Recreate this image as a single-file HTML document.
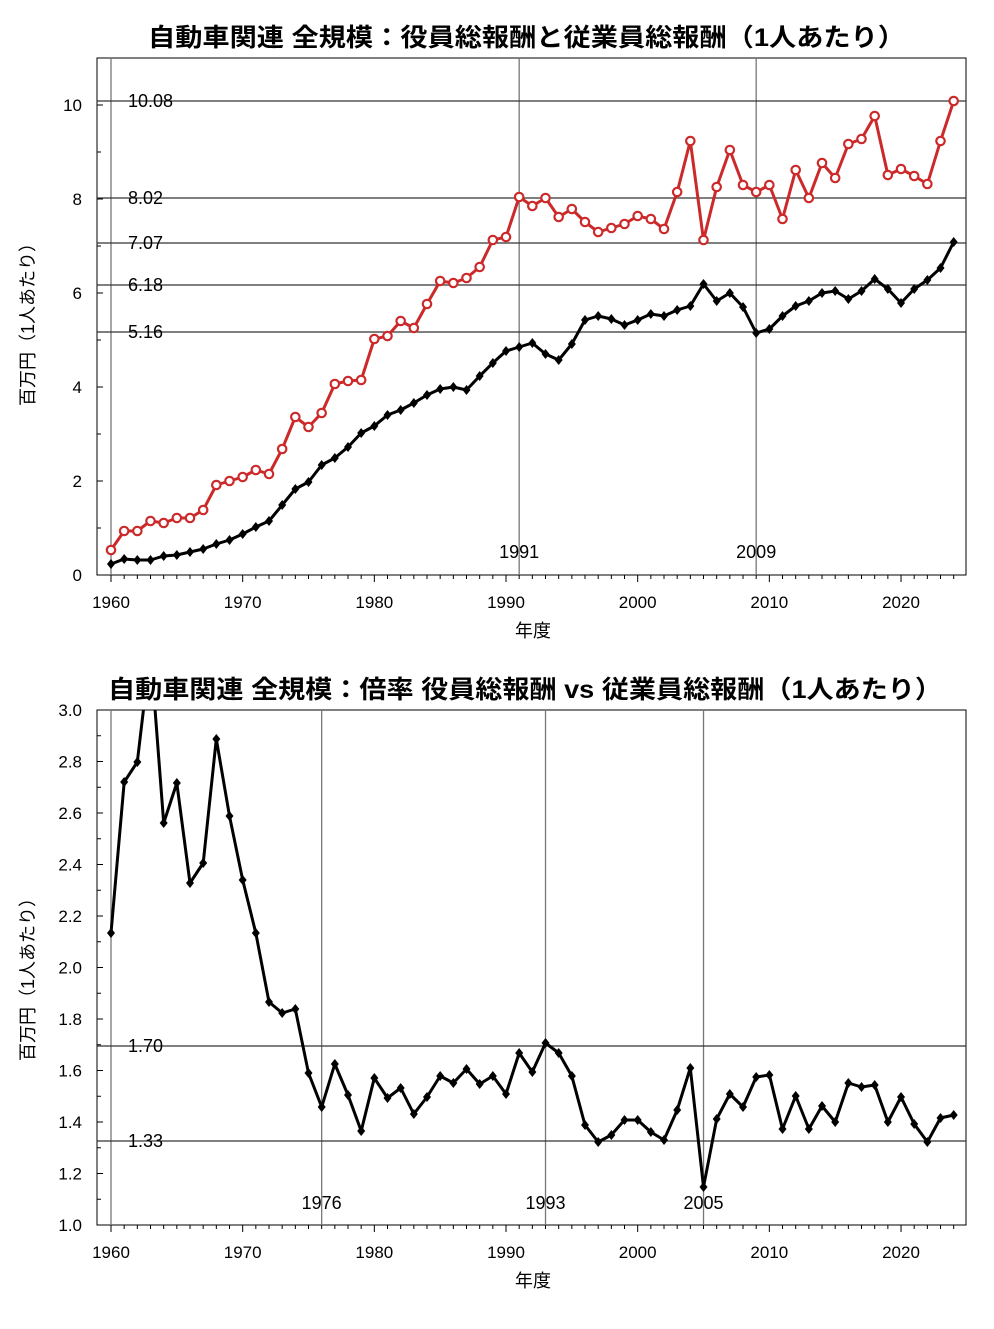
<!DOCTYPE html>
<html><head><meta charset="utf-8"><style>
html,body{margin:0;padding:0;background:#fff}
svg text{font-family:"Liberation Sans","Noto Sans CJK JP",sans-serif}
</style></head><body>
<svg id="s" width="994" height="1324" xmlns="http://www.w3.org/2000/svg"></svg>
<script>
const s=document.getElementById('s');let h='';
const X=y=>111+(y-1960)*13.167;
function frame(top,bot,title,ty,tx,tl,yl,ticks,fmt,hl,vl,vly){
 h+=`<text x="${tx}" y="${ty}" font-size="25" font-weight="bold" textLength="${tl}" lengthAdjust="spacingAndGlyphs">${title}</text>`;
 h+=`<rect x="97" y="${top}" width="869" height="${bot-top}" fill="none" stroke="#000" stroke-width="1"/>`;
 for(const v of vl){h+=`<line x1="${X(v)}" y1="${top}" x2="${X(v)}" y2="${bot}" stroke="#777" stroke-width="1.3"/>`;
  if(v!==1960)h+=`<text x="${X(v)}" y="${vly}" font-size="18" text-anchor="middle">${v}</text>`;}
 for(const [y,l] of hl){h+=`<line x1="97" y1="${y}" x2="966" y2="${y}" stroke="#333" stroke-width="1.2"/><text x="128" y="${y+6}" font-size="18">${l}</text>`;}
 for(const [y,l] of ticks){h+=`<line x1="97" y1="${y}" x2="103" y2="${y}" stroke="#000"/><text x="82" y="${y+6}" font-size="17" text-anchor="end">${l}</text>`;}
 for(let i=0;i<ticks.length-1;i++){const m=(ticks[i][0]+ticks[i+1][0])/2;h+=`<line x1="97" y1="${m}" x2="101" y2="${m}" stroke="#000"/>`;}
 for(let yr=1960;yr<=2024;yr++){const big=yr%10==0;h+=`<line x1="${X(yr)}" y1="${bot}" x2="${X(yr)}" y2="${bot+(big?7:4)}" stroke="#000"/>`;
  if(big)h+=`<text x="${X(yr)}" y="${bot+33}" font-size="17" text-anchor="middle">${yr}</text>`;}
 h+=`<text x="533" y="${bot+62}" font-size="18" text-anchor="middle">年度</text>`;
 h+=`<text transform="translate(34,${yl}) rotate(-90)" font-size="18" text-anchor="middle">百万円（1人あたり）</text>`;
}
function line(ys,col,marker,clipId){
 let p=ys.map((y,i)=>X(1960+i).toFixed(1)+','+y).join(' ');
 h+=`<g ${clipId?`clip-path="url(#${clipId})"`:''}><polyline points="${p}" fill="none" stroke="${col}" stroke-width="3" stroke-linejoin="round"/>`;
 ys.forEach((y,i)=>{const x=X(1960+i);
  if(marker=='o')h+=`<circle cx="${x}" cy="${y}" r="4.2" fill="#fff" stroke="${col}" stroke-width="2.2"/>`;
  else h+=`<path d="M${x} ${y-5}L${x+4} ${y}L${x} ${y+5}L${x-4} ${y}Z" fill="${col}"/>`;});
 h+='</g>';
}
h+=`<defs><clipPath id="c2"><rect x="97" y="710" width="869" height="515"/></clipPath></defs>`;
frame(58,575,'自動車関連 全規模：役員総報酬と従業員総報酬（1人あたり）',46,148,757,320,
 [[575,'0'],[481,'2'],[387,'4'],[293,'6'],[199,'8'],[105,'10']],0,
 [[101,'10.08'],[198,'8.02'],[243,'7.07'],[285,'6.18'],[332,'5.16']],[1960,1991,2009],558);
frame(710,1225,'自動車関連 全規模：倍率 役員総報酬 vs 従業員総報酬（1人あたり）',698,108,834,975,
 [[1225,'1.0'],[1173.5,'1.2'],[1122,'1.4'],[1070.5,'1.6'],[1019,'1.8'],[967.5,'2.0'],[916,'2.2'],[864.5,'2.4'],[813,'2.6'],[761.5,'2.8'],[710,'3.0']],0,
 [[1046,'1.70'],[1141,'1.33']],[1960,1976,1993,2005],1209);
const red=[550,531,531,521,523,518,518,510,485,481,477,470,474,449,417,427,413,384,381,380,339,336,321,328,304,281,283,278,267,240,237,197,206,198,217,209,222,232,228,224,216,219,229,192,141,240,187,150,185,192,185,219,170,198,163,178,144,139,116,175,169,176,184,141,101];
const blk=[564,559,560,560,556,555,552,549,544,540,534,527,521,505,489,482,465,458,447,433,426,415,410,403,395,389,387,390,376,363,351,347,343,354,360,344,320,316,319,325,320,314,316,310,306,284,301,293,307,333,329,316,306,301,293,291,299,291,279,289,303,289,280,268,242];
const rat=[933,782,762,650,823,783,883,863,739,816,880,933,1002,1013,1009,1073,1107,1064,1095,1131,1078,1098,1088,1114,1097,1076,1083,1069,1084,1076,1094,1053,1072,1043,1053,1076,1125,1142,1135,1120,1120,1132,1140,1110,1068,1187,1119,1094,1107,1077,1075,1129,1096,1129,1106,1122,1083,1087,1085,1122,1097,1124,1142,1118,1115];
line(red,'#cc2a2a','o');
line(blk,'#000','d');
line(rat,'#000','d','c2');
s.innerHTML=h;
</script>
</body></html>
